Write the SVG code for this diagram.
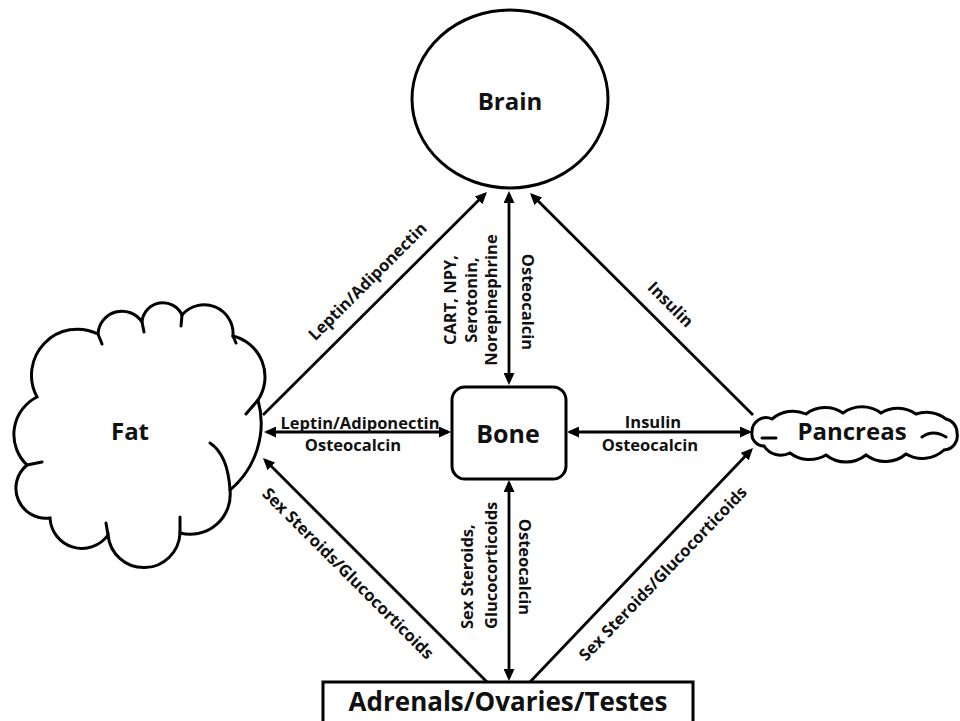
<svg xmlns="http://www.w3.org/2000/svg" width="960" height="721" viewBox="0 0 960 721">
  <style>
    .shape { fill: #fff; stroke: #000; stroke-width: 3; }
    .tail { fill: none; stroke: #000; stroke-width: 3; stroke-linecap: round; }
    .node { font-family: "Open Sans", "Liberation Sans", sans-serif; font-weight: 700; font-size: 24px; fill: #111; text-anchor: middle; }
    .lbl { font-family: "Open Sans", "Liberation Sans", sans-serif; font-weight: 700; font-size: 16.5px; fill: #111; text-anchor: middle; }
    .conn { fill: none; stroke: #000; stroke-width: 2.8; }
  </style>
  <defs>
    <marker id="ah" viewBox="0 0 12 11" refX="9" refY="5.5" markerWidth="12" markerHeight="11" markerUnits="userSpaceOnUse" orient="auto-start-reverse">
      <path d="M0,0 L12,5.5 L0,11 Z" fill="#000"/>
    </marker>
  </defs>
  <rect x="0" y="0" width="960" height="721" fill="#fff"/>

  <g id="connectors">
    <line class="conn" x1="509" y1="194" x2="509" y2="382" marker-start="url(#ah)" marker-end="url(#ah)"/>
    <line class="conn" x1="263" y1="415" x2="484.9" y2="194.1" marker-end="url(#ah)"/>
    <line class="conn" x1="753" y1="415" x2="532.1" y2="195.1" marker-end="url(#ah)"/>
    <line class="conn" x1="267" y1="432" x2="448" y2="432" marker-start="url(#ah)" marker-end="url(#ah)"/>
    <line class="conn" x1="570" y1="432" x2="749" y2="432" marker-start="url(#ah)" marker-end="url(#ah)"/>
    <line class="conn" x1="509" y1="483" x2="509" y2="678" marker-start="url(#ah)" marker-end="url(#ah)"/>
    <line class="conn" x1="487" y1="682" x2="265.1" y2="460.1" marker-end="url(#ah)"/>
    <line class="conn" x1="530" y1="682" x2="750.9" y2="450.2" marker-end="url(#ah)"/>

    <text class="lbl" transform="translate(371.5,285.5) rotate(-44.9)">Leptin/Adiponectin</text>
    <text class="lbl" transform="translate(666.5,308.5) rotate(45)">Insulin</text>
    <text class="lbl" transform="translate(456,300) rotate(-90)">CART, NPY,</text>
    <text class="lbl" transform="translate(477,300) rotate(-90)">Serotonin,</text>
    <text class="lbl" transform="translate(497,300) rotate(-90)">Norepinephrine</text>
    <text class="lbl" transform="translate(522,302) rotate(90)">Osteocalcin</text>
    <text class="lbl" x="360" y="429">Leptin/Adiponectin</text>
    <text class="lbl" x="353" y="451">Osteocalcin</text>
    <text class="lbl" x="653" y="428">Insulin</text>
    <text class="lbl" x="650" y="451">Osteocalcin</text>
    <text class="lbl" style="text-anchor:start" transform="translate(473,629) rotate(-90)">Sex Steroids,</text>
    <text class="lbl" style="text-anchor:start" transform="translate(497,629) rotate(-90)">Glucocorticoids</text>
    <text class="lbl" transform="translate(519,567) rotate(90)">Osteocalcin</text>
    <text class="lbl" transform="translate(344,577.5) rotate(45)">Sex Steroids/Glucocorticoids</text>
    <text class="lbl" transform="translate(667,577.5) rotate(-46.2)">Sex Steroids/Glucocorticoids</text>
  </g>

  <g id="brain">
    <ellipse class="shape" cx="510" cy="99" rx="98" ry="89"/>
    <text class="node" x="510" y="110">Brain</text>
  </g>

  <g id="bone">
    <rect class="shape" x="452" y="387" width="114" height="92" rx="13" ry="13"/>
    <text class="node" x="508" y="443" style="font-size:25px">Bone</text>
  </g>

  <g id="fat">
    <path class="shape" d="M27,465 A42,42 0 0 1 37,397 A46,46 0 0 1 98,334 A24,24 0 0 1 142,322 A21,21 0 0 1 182,315 A29,29 0 0 1 233,336 A42,42 0 0 1 258,400 A87,87 0 0 1 230,490 A40,40 0 0 1 180,533 A36.1,36.1 0 0 1 108,535 A32,32 0 0 1 50,518 A30,30 0 0 1 27,465 Z"/>
    <path class="tail" d="M98,334 L102,344 M142,322 L144,332 M182,315 L181,326 M233,336 L236,343 M258,400 L246,414 M210,443 Q228,455 230,490 M180,533 L180,517 M108,535 L106,523 M27,465 L42,462"/>
    <text class="node" x="130" y="440">Fat</text>
  </g>

  <g id="pancreas">
    <path class="shape" d="M752,432 A14,14 0 0 1 772,419 A32,32 0 0 1 806,414 A32,32 0 0 1 843,413 A32,32 0 0 1 881,413 A32,32 0 0 1 916,414 A32,32 0 0 1 946,419 A14,14 0 0 1 957,433 A14,14 0 0 1 944,450 A32,32 0 0 1 906,454 A32,32 0 0 1 866,455 A32,32 0 0 1 826,455 A32,32 0 0 1 790,453 A20,20 0 0 1 764,446 A12,12 0 0 1 752,432 Z"/>
    <path class="tail" d="M762,438 L776,438 M922,437 Q933,429 946,437"/>
    <text class="node" x="852" y="440">Pancreas</text>
  </g>

  <g id="adrenals">
    <rect class="shape" x="323" y="682" width="370" height="45"/>
    <text class="node" x="508" y="711" style="font-size:26px">Adrenals/Ovaries/Testes</text>
  </g>
</svg>
